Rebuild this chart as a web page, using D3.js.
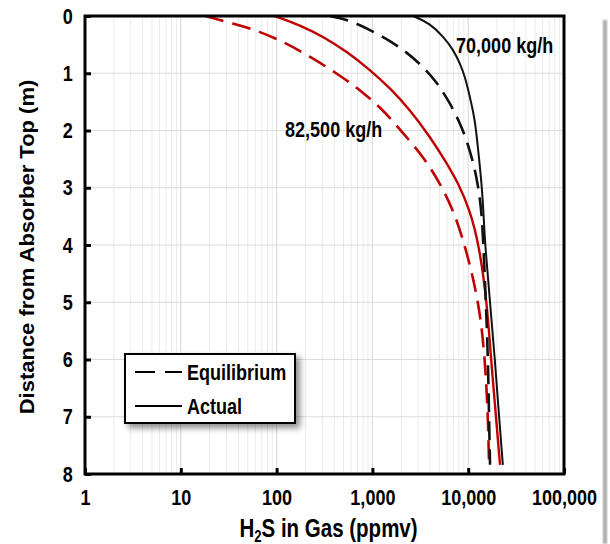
<!DOCTYPE html>
<html><head><meta charset="utf-8">
<script src="https://cdn.jsdelivr.net/npm/d3@7"></script>
<style>
body{margin:0;background:#fff;}
svg{display:block;}
text{font-family:"Liberation Sans", Arial, sans-serif;font-weight:bold;fill:#000;}
</style>
</head><body>
<svg id="chart" width="610" height="544"></svg>
<script>
// ---- data ----
const xTickValues = [1, 10, 100, 1000, 10000, 100000];
const yTickValues = [0, 1, 2, 3, 4, 5, 6, 7, 8];

const depth70Eq  = [0, 0.07, 0.30, 0.54, 0.83, 1.15, 1.52, 1.93, 2.34, 2.81, 3.39, 4, 5, 6, 7, 7.84];
const h2s70Eq    = [360, 580, 1110, 1940, 3140, 4690, 6460, 8550, 10400, 12300, 13800, 14400, 15300, 16100, 16500, 16900];
const depth70Act = [0, 0.13, 0.36, 0.59, 0.83, 1.06, 1.41, 1.82, 2.34, 2.92, 3.39, 4, 5, 6, 7, 7.84];
const h2s70Act   = [2670, 3990, 5500, 6990, 8210, 9260, 10400, 11800, 12700, 13800, 14400, 15000, 16900, 19000, 21000, 23000];
const depth825Eq  = [0, 0.13, 0.27, 0.48, 0.71, 1.0, 1.29, 1.64, 2.05, 2.46, 2.92, 3.39, 4, 5, 6, 7, 7.84];
const h2s825Eq    = [18, 35, 67, 128, 223, 424, 742, 1300, 2100, 3400, 5080, 6990, 9260, 13000, 15000, 16100, 16500];
const depth825Act = [0, 0.16, 0.36, 0.62, 0.94, 1.26, 1.64, 2.11, 2.52, 2.92, 3.39, 4, 5, 6, 7, 7.84];
const h2s825Act   = [96, 176, 307, 539, 944, 1530, 2470, 3990, 5720, 7880, 10400, 13000, 15700, 17300, 19500, 21500];

const seriesNames = ["70,000 kg/h Equilibrium", "70,000 kg/h Actual", "82,500 kg/h Equilibrium", "82,500 kg/h Actual"];
const legendLabels = ["Equilibrium", "Actual"];
const flowLabels = ["70,000 kg/h", "82,500 kg/h"];

// ---- layout ----
const svg = d3.select("#chart");
const L = 85, R = 564, T = 16, B = 474;
const x = d3.scaleLog().domain([1, 100000]).range([L, R]);
const y = d3.scaleLinear().domain([0, 8]).range([T, B]);
const SX = 0.82; // horizontal condensation of text

const defs = svg.append("defs");
const f = defs.append("filter").attr("id", "shadow").attr("x", "-20%").attr("y", "-20%").attr("width", "150%").attr("height", "160%");
f.append("feDropShadow").attr("dx", 4).attr("dy", 4).attr("stdDeviation", 3).attr("flood-color", "#000").attr("flood-opacity", 0.45);
const f2 = defs.append("filter").attr("id", "blur");
f2.append("feGaussianBlur").attr("stdDeviation", 0.8);

// right-edge grey line
svg.append("rect").attr("x", 603).attr("y", 20).attr("width", 4).attr("height", 524)
  .attr("fill", "#a8a8a8").attr("filter", "url(#blur)");

// gridlines
const minorX = [];
for (let e = 0; e < 5; e++) for (let m = 2; m <= 9; m++) minorX.push(m * Math.pow(10, e));
svg.append("g").selectAll("line").data(minorX).join("line")
  .attr("x1", d => x(d)).attr("x2", d => x(d)).attr("y1", T).attr("y2", B)
  .attr("stroke", "#ebebeb").attr("stroke-width", 1);
svg.append("g").selectAll("line").data(xTickValues.slice(1, -1)).join("line")
  .attr("x1", d => x(d)).attr("x2", d => x(d)).attr("y1", T).attr("y2", B)
  .attr("stroke", "#dcdcdc").attr("stroke-width", 1.2);
svg.append("g").selectAll("line").data(yTickValues.slice(1, -1)).join("line")
  .attr("x1", L).attr("x2", R).attr("y1", d => y(d)).attr("y2", d => y(d))
  .attr("stroke", "#dcdcdc").attr("stroke-width", 1.2);

// curves
const zip = (ds, vs) => ds.map((d, i) => ({d: d, v: vs[i]}));
const series = [
  {name: seriesNames[0], pts: zip(depth70Eq, h2s70Eq), color: "#111", dash: "19,9", w: 2.6},
  {name: seriesNames[1], pts: zip(depth70Act, h2s70Act), color: "#111", dash: null, w: 2},
  {name: seriesNames[2], pts: zip(depth825Eq, h2s825Eq), color: "#c00000", dash: "19,9", w: 2.6},
  {name: seriesNames[3], pts: zip(depth825Act, h2s825Act), color: "#c00000", dash: null, w: 2.4}
];
const line = d3.line().x(p => x(p.v)).y(p => y(p.d)).curve(d3.curveBasis);
svg.append("g").selectAll("path").data([series[2], series[3], series[0], series[1]]).join("path")
  .attr("d", s => line(s.pts)).attr("fill", "none")
  .attr("stroke", s => s.color).attr("stroke-width", s => s.w)
  .attr("stroke-dasharray", s => s.dash);

// frame
svg.append("rect").attr("x", L).attr("y", T).attr("width", R - L).attr("height", B - T)
  .attr("fill", "none").attr("stroke", "#000").attr("stroke-width", 3);

// axes
const xAxis = svg.append("g").attr("transform", `translate(0,${B})`)
  .call(d3.axisBottom(x).tickValues(xTickValues).tickFormat(d3.format(",")).tickSizeInner(-6).tickSizeOuter(0).tickPadding(15));
xAxis.select(".domain").remove();
xAxis.selectAll(".tick line").attr("stroke", "#000").attr("stroke-width", 3);
xAxis.selectAll(".tick text").attr("font-size", 22).attr("transform", `scale(${SX},1)`);

const yAxis = svg.append("g").attr("transform", `translate(${L},0)`)
  .call(d3.axisLeft(y).tickValues(yTickValues).tickFormat(d3.format("d")).tickSizeInner(-6).tickSizeOuter(0).tickPadding(15));
yAxis.select(".domain").remove();
yAxis.selectAll(".tick line").attr("stroke", "#000").attr("stroke-width", 3);
yAxis.selectAll(".tick text").attr("font-size", 22).attr("transform", `scale(${SX},1)`);

// axis titles
const xt = svg.append("text").attr("transform", `translate(${(L + R) / 2 + 4},537) scale(${SX},1)`)
  .attr("text-anchor", "middle").attr("font-size", 25);
xt.append("tspan").text("H");
xt.append("tspan").text("2").attr("font-size", 16).attr("dy", 5);
xt.append("tspan").text("S in Gas (ppmv)").attr("dy", -5);

svg.append("text").attr("transform", `translate(34,${(T + B) / 2 + 2}) scale(0.9,1) rotate(-90)`)
  .attr("text-anchor", "middle").attr("font-size", 22).text("Distance from Absorber Top (m)");

// flow labels
svg.append("text").attr("transform", `translate(456,53) scale(${SX},1)`).attr("font-size", 22).text(flowLabels[0]);
svg.append("text").attr("transform", `translate(285,137) scale(${SX},1)`).attr("font-size", 22).text(flowLabels[1]);

// legend
const lg = svg.append("g");
lg.append("rect").attr("x", 125).attr("y", 354).attr("width", 170).attr("height", 69)
  .attr("fill", "#fff").attr("stroke", "#000").attr("stroke-width", 2).attr("filter", "url(#shadow)");
const legendItems = [{label: legendLabels[0], dash: "20,10", yy: 372}, {label: legendLabels[1], dash: null, yy: 406}];
legendItems.forEach(it => {
  lg.append("line").attr("x1", 135).attr("x2", 182).attr("y1", it.yy).attr("y2", it.yy)
    .attr("stroke", "#000").attr("stroke-width", 2).attr("stroke-dasharray", it.dash);
  lg.append("text").attr("transform", `translate(187,${it.yy + 8}) scale(${SX},1)`).attr("font-size", 22).text(it.label);
});
</script>
</body></html>
